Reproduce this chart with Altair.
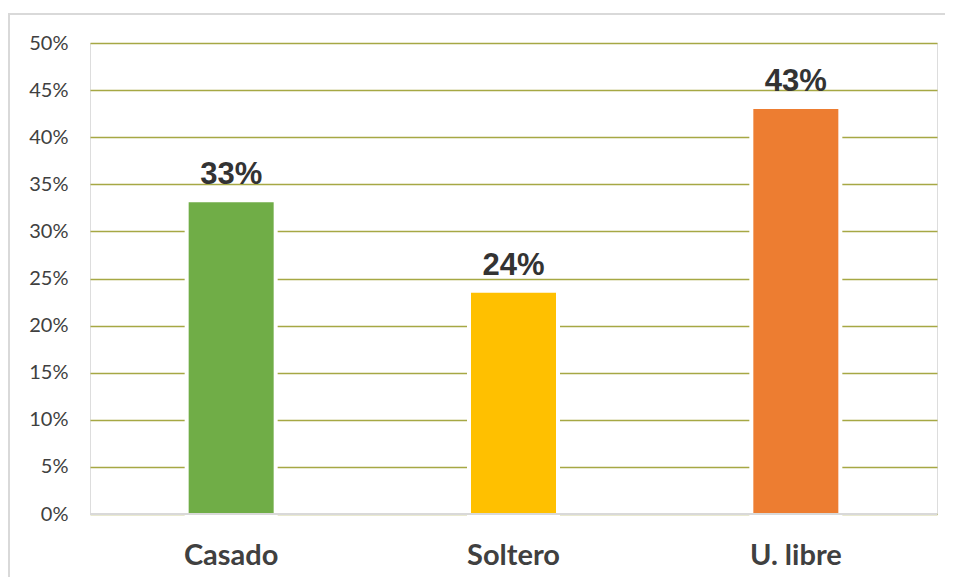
import altair as alt
import pandas as pd

categories = ["Casado", "Soltero", "U. libre"]
values = [0.331, 0.235, 0.43]
labels = ["33%", "24%", "43%"]
colors = ["#70ad47", "#ffc000", "#ed7d31"]

df = pd.DataFrame({"cat": categories, "val": values, "lab": labels, "col": colors})

x_enc = alt.X("cat:N", sort=categories,
              axis=alt.Axis(title=None, labelAngle=0, ticks=False, domain=False,
                            labelFont="Lato", labelFontWeight="bold", labelFontSize=29,
                            labelColor="#404040", labelPadding=27, grid=False),
              scale=alt.Scale(paddingInner=0, paddingOuter=0))
y_enc = alt.Y("val:Q",
              scale=alt.Scale(domain=[0, 0.5], nice=False),
              axis=alt.Axis(title=None, format=".0%", values=[i * 0.05 for i in range(11)],
                            ticks=False, domain=False, labelFont="Lato", labelFontSize=20,
                            labelColor="#404040", labelPadding=22,
                            gridColor="#a6a844", gridWidth=1.3))

base = alt.Chart(df)

halo = base.mark_bar(size=85, color="white", stroke="white", strokeWidth=8).encode(x=x_enc, y=y_enc)
bars = base.mark_bar(size=85).encode(x=x_enc, y=y_enc,
                                     color=alt.Color("col:N", scale=None, legend=None))
text = base.mark_text(font="Liberation Sans", fontWeight="bold", fontSize=31,
                      color="#333333", baseline="alphabetic", dy=-18).encode(
    x=x_enc, y=y_enc, text="lab:N")

zero = alt.Chart(pd.DataFrame({"z": [0]})).mark_rule(color="#d9d9d9", strokeWidth=2).encode(
    y=alt.Y("z:Q"))

border = alt.Chart(pd.DataFrame({"d": [0]})).mark_rect(
    fill=None, fillOpacity=0, stroke="#d9d9d9", strokeWidth=2).encode(
    x=alt.value(-81), x2=alt.value(900), y=alt.value(-29), y2=alt.value(600))

chart = alt.layer(border, halo, bars, zero, text).properties(
    width=847, height=471,
    padding={"left": 82, "top": 35, "right": 8, "bottom": 63},
    autosize=alt.AutoSizeParams(type="none"),
).configure_view(stroke=None).configure(background="white")

chart.save("out.html", embed_options={"renderer": "svg", "actions": False})
